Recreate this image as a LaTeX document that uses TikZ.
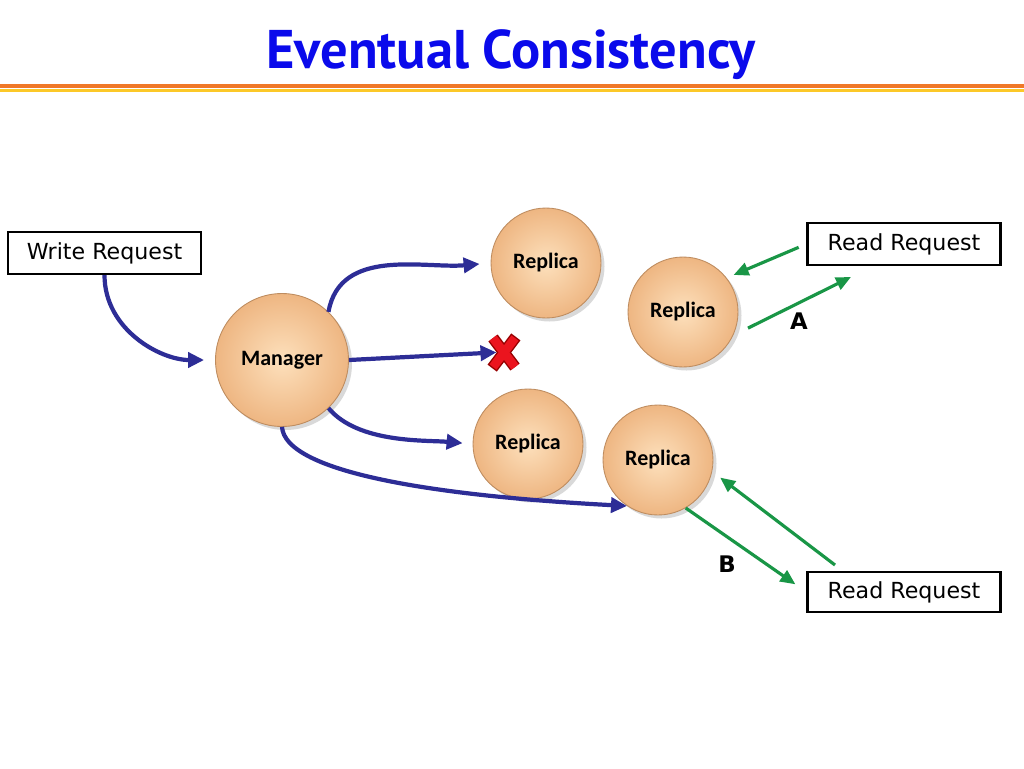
\documentclass[tikz,border=0pt]{standalone}
\usepackage{fontspec}
\setmainfont{DejaVu Sans}
\newfontfamily\titlefont{PT Sans}
\newfontfamily\ballfont{Carlito}
\usetikzlibrary{arrows.meta,shadows}

\definecolor{titleblue}{RGB}{10,10,235}
\definecolor{peachlight}{RGB}{253,224,188}
\definecolor{peachdark}{RGB}{238,182,130}
\definecolor{rim}{RGB}{190,140,95}
\definecolor{navy}{RGB}{45,45,150}
\definecolor{readgreen}{RGB}{25,150,70}
\definecolor{barorange}{RGB}{240,120,40}
\definecolor{baryellow}{RGB}{252,200,40}
\definecolor{crossred}{RGB}{235,20,30}
\definecolor{crossdark}{RGB}{150,0,0}

\tikzset{
  ball/.style={circle, shading=radial, inner color=peachlight, outer color=peachdark,
    draw=rim, line width=.5pt, minimum size=2.2cm,
    drop shadow={shadow xshift=2pt,shadow yshift=-2pt,opacity=.3},
    font=\ballfont\bfseries\fontsize{12.5}{14}\selectfont},
  request/.style={draw, line width=1.2pt, minimum width=3.86cm, minimum height=.84cm,
    inner sep=0pt, font=\fontsize{12.6}{15}\selectfont},
  push/.style={navy, line width=2.4pt, -{Triangle[length=.32cm,width=.3cm]}},
  read/.style={readgreen, line width=1.8pt, -{Triangle[length=.3cm,width=.26cm]}},
  letter/.style={font=\bfseries\fontsize{13}{15}\selectfont}
}

\begin{document}
\begin{tikzpicture}[x=.02cm,y=-.02cm]
  \useasboundingbox (0,0) rectangle (1024,768);
  \node[anchor=base, text=titleblue, font=\titlefont\bfseries\fontsize{31}{36}\selectfont]
    (title) at (511,68) {Eventual Consistency};
  \draw[barorange, line width=2pt] (0,86) -- (1024,86);
  \draw[baryellow, line width=2pt] (0,90.5) -- (1024,90.5);

  \node[request] (write) at (104.5,253) {Write Request};
  \node[request] (readA) at (904,244) {Read Request};
  \node[request, minimum height=.8cm] (readB) at (904,592) {Read Request};

  \node[ball, minimum size=2.66cm] (mgr) at (282,360) {Manager};
  \node[ball] (rep1) at (546,263) {Replica};
  \node[ball] (repA) at (683,312) {Replica};
  \node[ball] (rep3) at (528,444) {Replica};
  \node[ball] (repB) at (658,460) {Replica};

  \coordinate (cross) at (504,352);
  \coordinate (aEnd) at (851,277);
  \coordinate (bStart) at (835,565);

  % writes from the manager
  \draw[push, shorten >=.22cm] (write.south) to[out=-90,in=180] (mgr.west);
  \draw[push, shorten >=.22cm] (mgr.46) to[out=80,in=185] (rep1.west);
  \draw[push, shorten >=.15cm] (mgr.east) -- (cross);
  \draw[push, shorten >=.2cm] (mgr.-46) to[out=-50,in=175,looseness=.8] (rep3.west);
  \draw[push] (mgr.south) .. controls (285,470) and (420,495) .. (repB.236);

  \draw[crossdark, line width=6.6pt, shorten <=-.8pt, shorten >=-.8pt]
    (cross) ++(-11,-14) -- ++(22,29) (cross) ++(11,-14) -- ++(-22,29);
  \draw[crossred, line width=5pt]
    (cross) ++(-11,-14) -- ++(22,29) (cross) ++(11,-14) -- ++(-22,29);

  % reads
  \draw[read, shorten <=.17cm, shorten >=.15cm] (readA.west) -- (repA.38);
  \draw[read, shorten <=.33cm] (repA.-25) -- (aEnd);
  \node[letter] (labA) at (799,321) {A};
  \draw[read, shorten >=.27cm] (repB.-60) -- (readB.west);
  \draw[read, shorten >=.2cm] (bStart) -- (repB.-12);
  \node[letter] (labB) at (727,564) {B};
\end{tikzpicture}
\end{document}
